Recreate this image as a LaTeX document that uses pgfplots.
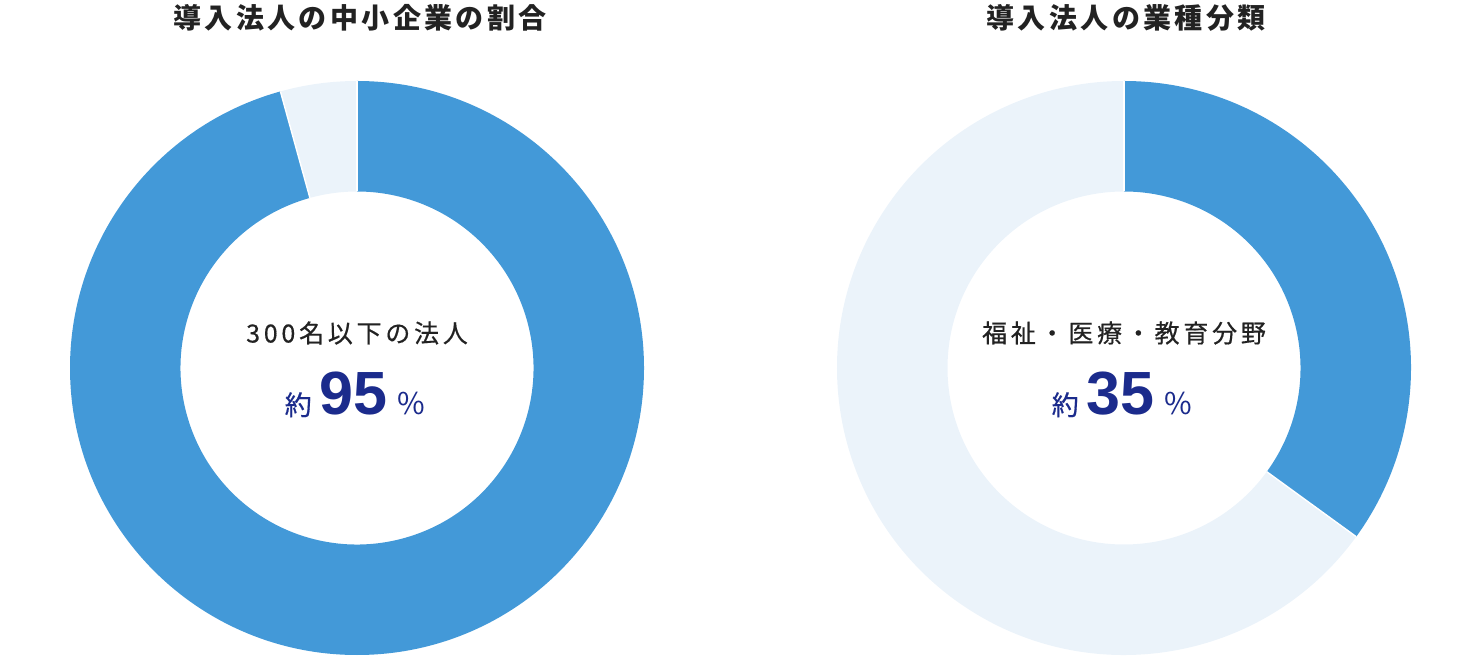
\documentclass[border=0pt]{standalone}
\usepackage{fontspec}
\setmainfont{Noto Sans CJK JP}
\newfontfamily\numfont{Liberation Sans}
\usepackage{pgfplots}
\usepackage{pgfplotstable}
\pgfplotsset{compat=1.18}
\usetikzlibrary{calc}

\definecolor{ringblue}{HTML}{4399D8}
\definecolor{ringlight}{HTML}{EBF3FA}
\definecolor{navy}{HTML}{1B2B8C}
\definecolor{labelgray}{HTML}{222222}

% share of each segment, in percent, clockwise from the top
\pgfplotstableread{
segment value
small   95.7
other   4.3
}\sizetable
\pgfplotstableread{
segment value
welfare 35
other   65
}\fieldtable

\pgfplotstablegetelem{0}{value}\of\sizetable
\pgfmathsetmacro\sizeB{90-3.6*\pgfplotsretval}
\pgfplotstablegetelem{0}{value}\of\fieldtable
\pgfmathsetmacro\fieldB{90-3.6*\pgfplotsretval}

% 1 px of the reference = 0.5pt
\def\Ro{143.5pt}
\def\Ri{88.25pt}

\newcommand\ringseg[5]{%
  \fill[#5] ($(axis cs:#1,#2)+(#3:\Ro)$) arc[start angle=#3,end angle=#4,radius=\Ro]
    -- ($(axis cs:#1,#2)+(#4:\Ri)$) arc[start angle=#4,end angle=#3,radius=\Ri] -- cycle;}
\newcommand\ringcut[3]{%
  \draw[white,line width=0.7pt] ($(axis cs:#1,#2)+(#3:\Ri)$) -- ($(axis cs:#1,#2)+(#3:\Ro)$);}

\newcommand\titlefont{\fontsize{14pt}{16pt}\selectfont\bfseries\addfontfeatures{LetterSpace=12}}
\newcommand\labelfont{\fontsize{12.5pt}{15pt}\selectfont\addfontfeatures{LetterSpace=15,FakeBold=0.5}}
\newcommand\bignum[1]{{\fontsize{13.5pt}{15pt}\selectfont\addfontfeatures{FakeBold=0.6}約}\hspace{4pt}%
  {\numfont\bfseries\fontsize{30.5pt}{32pt}\selectfont #1}\hspace{5pt}%
  {\fontsize{15pt}{16pt}\selectfont \%}}

\begin{document}
\begin{tikzpicture}
\begin{axis}[
    x=0.5pt, y=0.5pt,
    xmin=0, xmax=1481, ymin=0, ymax=658,
    scale only axis,
    axis line style={draw=none},
    ticks=none,
    clip=false,
]
% left: share of small companies
\ringseg{357}{290}{90}{\sizeB}{ringblue}
\ringseg{357}{290}{\sizeB}{-270}{ringlight}
\ringcut{357}{290}{90}
\ringcut{357}{290}{\sizeB}
% right: industry
\ringseg{1124}{290}{90}{\fieldB}{ringblue}
\ringseg{1124}{290}{\fieldB}{-270}{ringlight}
\ringcut{1124}{290}{90}
\ringcut{1124}{290}{\fieldB}

\node[font=\titlefont, text=labelgray] at (axis cs:360,640) {導入法人の中小企業の割合};
\node[font=\titlefont, text=labelgray] at (axis cs:1126,640) {導入法人の業種分類};

\node[font=\labelfont, text=labelgray] at (axis cs:357,325) {300名以下の法人};
\node[font=\labelfont, text=labelgray] at (axis cs:1124,325) {福祉・医療・教育分野};

\node[anchor=base, text=navy, inner sep=0pt] at (axis cs:355,243) {\bignum{95}};
\node[anchor=base, text=navy, inner sep=0pt] at (axis cs:1122,243) {\bignum{35}};
\end{axis}
\pgfresetboundingbox
\path[use as bounding box] (current axis.south west) rectangle (current axis.north east);
\end{tikzpicture}
\end{document}
